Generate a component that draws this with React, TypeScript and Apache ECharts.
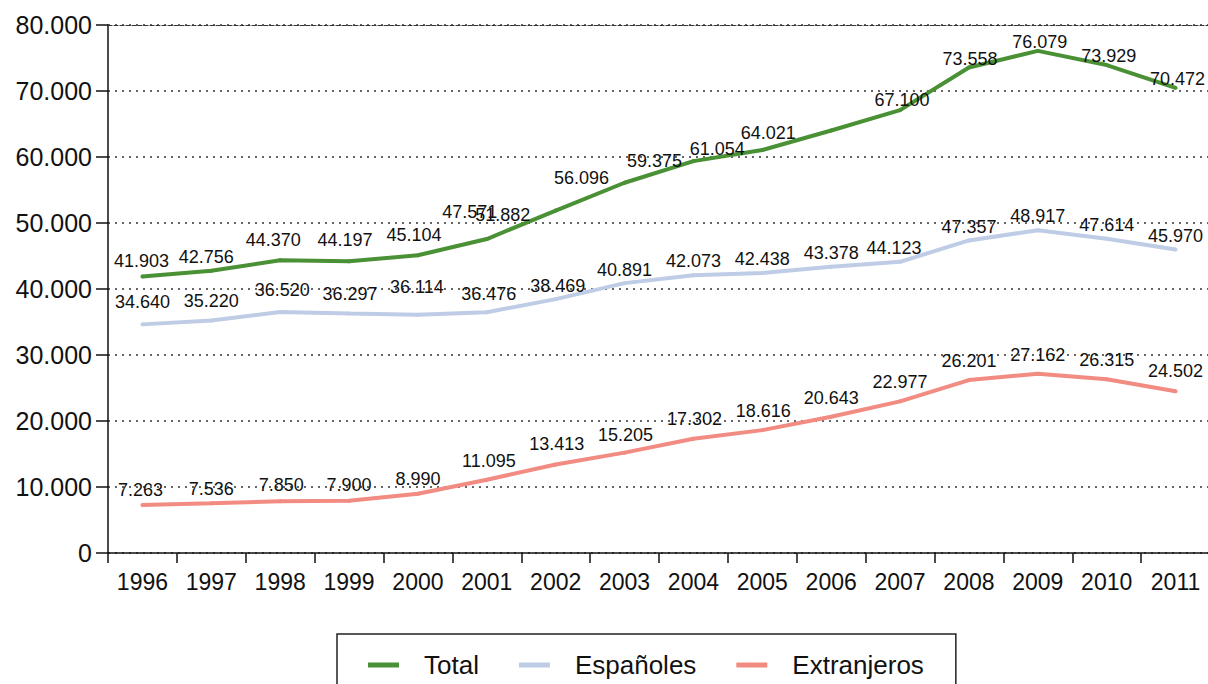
import React, { useEffect, useRef } from "react";
import * as echarts from "echarts";

const years = ["1996", "1997", "1998", "1999", "2000", "2001", "2002", "2003", "2004", "2005", "2006", "2007", "2008", "2009", "2010", "2011"];
const total = [41903, 42756, 44370, 44197, 45104, 47571, 51882, 56096, 59375, 61054, 64021, 67100, 73558, 76079, 73929, 70472];
const espanoles = [34640, 35220, 36520, 36297, 36114, 36476, 38469, 40891, 42073, 42438, 43378, 44123, 47357, 48917, 47614, 45970];
const extranjeros = [7263, 7536, 7850, 7900, 8990, 11095, 13413, 15205, 17302, 18616, 20643, 22977, 26201, 27162, 26315, 24502];
const yTicks = { min: 0, max: 80000, interval: 10000 };

// label placement tweaks (style only)
const totalLabelShift = [[-1, -1], [-5, 0], [-7, -6], [-4, -7], [-4, -6], [-17, -13], [-53, 18], [-43, 9], [-39, 14], [-45, 13], [-63, 17], [2, 4], [1, 5], [2, 5], [2, 5], [2, 5]];
const espLabelShift = [[0, -8], [0, -6], [2, -8], [1, -5], [-1, -14], [2, -4], [2, 1], [0, 1], [0, 0], [0, 0], [0, 0], [-6, 0], [0, 1], [0, 0], [0, 0], [0, 0]];
const extLabelShift = [[-2, -1], [0, 0], [1, -2], [0, -2], [0, -1], [2, -5], [1, -6], [1, -4], [1, -6], [1, -5], [0, -5], [0, -5], [0, -5], [0, -5], [0, -5], [0, -6]];

const FONT = "'Liberation Sans', Arial, Helvetica, sans-serif";

const fmt = (v: number) => Math.round(v).toString().replace(/\B(?=(\d{3})+(?!\d))/g, ".");

function mkSeries(name: string, values: number[], shifts: number[][], color: string) {
  return {
    name,
    type: "line",
    xAxisIndex: 0,
    yAxisIndex: 0,
    symbol: "circle",
    symbolSize: 4,
    showSymbol: true,
    itemStyle: { color },
    lineStyle: { color, width: 4 },
    emphasis: { disabled: true },
    label: {
      show: true,
      position: "top",
      distance: 3,
      fontSize: 18,
      fontFamily: FONT,
      color: "#111",
      formatter: (p: any) => fmt(p.value),
    },
    data: values.map((v, i) => ({ value: v, label: { offset: shifts[i] } })),
  };
}

export default function App() {
  const ref = useRef<HTMLDivElement>(null);
  useEffect(() => {
    if (!ref.current) return;
    const chart = echarts.init(ref.current, undefined, { renderer: "svg" });
    chart.setOption({
      animation: false,
      backgroundColor: "#fff",
      grid: { left: 108, right: -2, top: 25, bottom: 131, containLabel: false, outerBoundsMode: "none" },
      legend: {
        left: 337,
        top: 634,
        orient: "horizontal",
        padding: [18, 32, 18, 31],
        borderColor: "#222",
        borderWidth: 1.5,
        itemWidth: 31,
        itemHeight: 5,
        itemGap: 40,
        icon: "rect",
        selectedMode: false,
        textStyle: { fontSize: 26, fontFamily: FONT, color: "#111", padding: [0, 0, 0, 20] },
        data: ["Total", "Españoles", "Extranjeros"],
      },
      xAxis: [
        {
          type: "category",
          data: years,
          boundaryGap: true,
          axisLine: { show: true, lineStyle: { color: "#111", width: 1.5 } },
          axisTick: { show: true, length: 10, lineStyle: { color: "#111", width: 1.5 } },
          axisLabel: { fontSize: 23, fontFamily: FONT, color: "#111", margin: 17, interval: 0 },
          splitLine: { show: false },
        },
        {
          type: "category",
          data: years,
          position: "top",
          boundaryGap: true,
          axisLine: { show: true, lineStyle: { color: "#333", width: 1.2, type: [4, 2] } },
          axisTick: { show: false },
          axisLabel: { show: false },
          splitLine: { show: false },
        },
      ],
      yAxis: {
        type: "value",
        min: yTicks.min,
        max: yTicks.max,
        interval: yTicks.interval,
        axisLine: { show: true, lineStyle: { color: "#111", width: 1.5 } },
        axisTick: { show: true, length: 12, lineStyle: { color: "#111", width: 1.5 } },
        axisLabel: { fontSize: 25, fontFamily: FONT, color: "#111", margin: 16, formatter: (v: number) => fmt(v) },
        splitLine: { show: true, lineStyle: { color: "#333", width: 1.5, type: [2, 5] } },
      },
      series: [
        mkSeries("Total", total, totalLabelShift, "#4a9034"),
        mkSeries("Españoles", espanoles, espLabelShift, "#bfcce6"),
        mkSeries("Extranjeros", extranjeros, extLabelShift, "#f28b82"),
      ],
    });
    return () => chart.dispose();
  }, []);
  return <div ref={ref} style={{ position: "fixed", left: 0, top: 0, width: 1208, height: 684 }} />;
}
